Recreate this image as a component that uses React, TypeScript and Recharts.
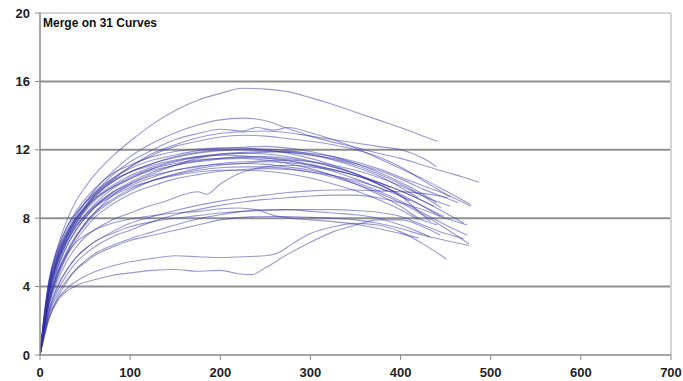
import React from 'react';
import { LineChart, Line, XAxis, YAxis, ReferenceLine } from 'recharts';

const xTicks = [0, 100, 200, 300, 400, 500, 600, 700];
const yTicks = [0, 4, 8, 12, 16, 20];
const gridValues = [4, 8, 12, 16];
const title = 'Merge on 31 Curves';

const c01 = [[0,0],[5,2.6],[10,4.3],[20,6.4],[30,7.9],[40,9.0],[50,9.8],[60,10.5],[80,11.6],[100,12.5],[125,13.5],[150,14.3],[175,14.9],[200,15.3],[225,15.6],[250,15.55],[275,15.4],[300,15.05],[325,14.65],[350,14.2],[375,13.75],[400,13.3],[420,12.9],[441,12.5]];
const c02 = [[0,0],[5,2.4],[10,4.0],[20,5.9],[30,7.1],[40,8.1],[50,8.9],[60,9.6],[80,10.7],[100,11.6],[125,12.4],[150,13.0],[175,13.45],[200,13.75],[225,13.85],[250,13.7],[275,13.25],[300,12.8],[325,12.45],[350,12.15],[375,11.8],[400,11.5],[425,11.1],[450,10.7],[470,10.4],[487,10.1]];
const c03 = [[0,0],[10,3.7],[20,5.6],[30,6.9],[40,7.9],[50,8.7],[60,9.4],[80,10.5],[100,11.3],[125,12.0],[150,12.6],[175,12.95],[200,13.2],[225,13.1],[240,13.3],[260,13.15],[275,13.3],[300,13.0],[325,12.6],[350,12.1],[375,11.5],[400,10.9],[425,10.3],[450,9.6],[478,8.8]];
const c04 = [[0,0],[10,3.6],[20,5.4],[30,6.7],[40,7.7],[50,8.5],[60,9.2],[80,10.2],[100,11.0],[125,11.8],[150,12.3],[175,12.7],[200,12.95],[225,13.05],[250,13.1],[275,13.0],[300,12.8],[325,12.6],[350,12.4],[375,12.2],[400,12.0],[425,11.5],[440,11.0]];
const c05 = [[0,0],[10,3.9],[20,5.8],[30,7.0],[40,7.9],[50,8.6],[60,9.3],[80,10.3],[100,11.0],[125,11.7],[150,12.2],[175,12.5],[200,12.75],[225,12.85],[250,12.8],[275,12.65],[300,12.5],[325,12.3],[350,12.0],[375,11.6],[400,11.0],[425,10.2],[455,9.25]];
const c06 = [[0,0],[10,4.2],[20,6.1],[30,7.3],[40,8.2],[50,8.9],[60,9.5],[80,10.3],[100,10.9],[125,11.4],[150,11.7],[175,11.95],[200,12.1],[225,12.15],[250,12.2],[275,12.1],[300,11.9],[325,11.6],[350,11.2],[375,10.7],[400,10.1],[425,9.4],[440,8.9]];
const c07 = [[0,0],[10,4.0],[20,5.9],[30,7.1],[40,8.0],[50,8.7],[60,9.3],[80,10.1],[100,10.7],[125,11.2],[150,11.55],[175,11.8],[200,11.95],[225,12.0],[250,11.95],[275,11.85],[300,11.7],[325,11.4],[350,11.0],[375,10.5],[400,9.8],[420,9.2]];
const c08 = [[0,0],[10,3.5],[20,5.3],[30,6.6],[40,7.5],[50,8.2],[60,8.8],[80,9.7],[100,10.3],[125,10.9],[150,11.3],[175,11.55],[200,11.7],[225,11.8],[250,11.85],[275,11.9],[300,11.8],[325,11.6],[350,11.3],[375,10.9],[400,10.4],[425,9.9],[450,9.4],[478,8.7]];
const c09 = [[0,0],[10,3.8],[20,5.7],[30,6.9],[40,7.8],[50,8.5],[60,9.1],[80,9.9],[100,10.5],[125,11.0],[150,11.35],[175,11.6],[200,11.75],[225,11.8],[250,11.75],[275,11.6],[300,11.35],[325,11.0],[350,10.6],[375,10.0],[400,9.3],[420,8.4],[433,7.8]];
const c10 = [[0,0],[10,3.3],[20,5.1],[30,6.4],[40,7.3],[50,8.0],[60,8.6],[80,9.5],[100,10.1],[125,10.7],[150,11.1],[175,11.35],[200,11.5],[225,11.6],[250,11.6],[275,11.5],[300,11.3],[325,11.0],[350,10.6],[375,10.1],[389,9.8]];
const c11 = [[0,0],[10,4.1],[20,6.0],[30,7.2],[40,8.0],[50,8.6],[60,9.1],[80,9.8],[100,10.3],[125,10.8],[150,11.1],[175,11.3],[200,11.45],[225,11.5],[250,11.4],[275,11.2],[300,10.9],[325,10.5],[350,10.0],[375,9.4],[400,8.7],[420,8.0],[441,7.6]];
const c12 = [[0,0],[10,3.4],[20,5.2],[30,6.4],[40,7.3],[50,8.0],[60,8.6],[80,9.4],[100,9.9],[125,10.4],[150,10.8],[175,11.0],[200,11.2],[225,11.3],[250,11.35],[275,11.4],[300,11.3],[325,11.1],[350,10.8],[375,10.4],[400,9.9],[425,9.3],[455,8.7]];
const c13 = [[0,0],[10,3.6],[20,5.5],[30,6.7],[40,7.6],[50,8.2],[60,8.7],[80,9.5],[100,10.0],[125,10.5],[150,10.8],[175,11.05],[200,11.15],[225,11.2],[250,11.15],[275,11.0],[300,10.8],[325,10.5],[350,10.1],[375,9.6],[400,9.0],[425,8.3],[450,7.6],[474,7.0]];
const c14 = [[0,0],[10,3.2],[20,4.9],[30,6.1],[40,7.0],[50,7.7],[60,8.3],[80,9.1],[100,9.7],[125,10.2],[150,10.55],[175,10.8],[200,10.95],[225,11.0],[250,11.0],[275,10.9],[300,10.7],[325,10.4],[350,10.0],[375,9.5],[400,8.9],[425,8.2],[450,7.4],[476,6.5]];
const c15 = [[0,0],[10,3.9],[20,5.6],[30,6.7],[40,7.5],[50,8.1],[60,8.6],[80,9.3],[100,9.8],[125,10.2],[150,10.5],[175,10.7],[200,10.8],[225,10.8],[250,10.75],[275,10.6],[300,10.35],[325,10.0],[350,9.6],[375,9.1],[400,8.5],[420,7.9]];
const c16 = [[0,0],[10,4.3],[20,6.2],[30,7.5],[40,8.4],[50,9.1],[60,9.7],[80,10.6],[100,11.1],[125,11.6],[150,11.9],[175,12.05],[200,12.1],[225,12.1],[250,12.0],[275,11.8],[300,11.5],[325,11.1],[350,10.6],[375,10.0],[400,9.3],[410,9.0]];
const c17 = [[0,0],[10,4.4],[20,6.3],[30,7.5],[40,8.3],[50,8.9],[60,9.4],[80,10.2],[100,10.7],[125,11.1],[150,11.4],[175,11.6],[200,11.7],[225,11.65],[250,11.55],[275,11.4],[300,11.1],[325,10.75],[350,10.3],[375,9.8],[385,9.6]];
const c18 = [[0,0],[10,3.0],[20,4.7],[30,5.9],[40,6.9],[50,7.7],[60,8.3],[80,9.3],[100,10.0],[125,10.6],[150,11.1],[175,11.5],[200,11.75],[225,11.85],[250,11.9],[275,11.85],[300,11.7],[325,11.5],[350,11.2],[375,10.8],[400,10.3],[425,9.7],[450,9.2],[464,8.9]];
const c19 = [[0,0],[10,3.1],[20,4.8],[30,6.0],[40,6.9],[50,7.6],[60,8.2],[80,9.0],[100,9.6],[125,10.2],[150,10.6],[175,10.9],[200,11.1],[225,11.2],[250,11.3],[275,11.25],[300,11.1],[325,10.85],[350,10.5],[375,10.0],[400,9.4],[425,8.7],[444,8.1]];
const c20 = [[0,0],[10,3.7],[20,5.6],[30,6.8],[40,7.7],[50,8.4],[60,9.0],[80,9.8],[100,10.4],[125,10.9],[150,11.2],[175,11.4],[200,11.5],[225,11.55],[250,11.5],[275,11.35],[300,11.15],[325,10.85],[350,10.5],[375,10.1],[400,9.6],[425,9.0],[450,8.3],[470,7.7]];
const c21 = [[0,0],[10,3.8],[20,5.7],[30,7.0],[40,7.9],[50,8.6],[60,9.2],[80,10.1],[100,10.7],[125,11.2],[150,11.6],[175,11.85],[200,12.0],[225,12.05],[250,12.05],[275,11.95],[300,11.75],[325,11.45],[350,11.1],[375,10.6],[400,10.0],[425,9.3],[445,8.6]];
const c22 = [[0,0],[10,3.0],[20,4.6],[30,5.8],[40,6.7],[50,7.4],[60,8.0],[80,8.8],[100,9.4],[125,9.9],[150,10.3],[175,10.55],[200,10.75],[225,10.85],[250,10.9],[275,10.85],[300,10.7],[325,10.5],[350,10.2],[375,9.8],[400,9.3],[425,8.7],[448,8.1]];
const c23 = [[0,0],[10,2.9],[20,4.4],[30,5.5],[40,6.3],[50,6.9],[60,7.3],[80,7.9],[100,8.3],[120,8.7],[140,9.0],[160,9.4],[175,9.55],[185,9.4],[200,10.0],[225,10.7],[250,11.0],[275,11.1],[300,11.0],[325,10.8],[350,10.5],[375,10.1],[400,9.6],[425,9.0],[437,8.7]];
const c24 = [[0,0],[10,2.7],[20,4.1],[30,5.0],[40,5.7],[50,6.2],[60,6.6],[80,7.2],[100,7.7],[125,8.1],[150,8.45],[175,8.75],[200,9.0],[225,9.2],[250,9.35],[275,9.5],[300,9.6],[325,9.65],[350,9.65],[375,9.6],[400,9.55],[425,9.45],[452,9.2]];
const c25 = [[0,0],[10,2.5],[20,3.8],[30,4.7],[40,5.4],[50,5.9],[60,6.3],[80,6.9],[100,7.3],[125,7.8],[150,8.2],[175,8.5],[200,8.75],[225,8.95],[250,9.1],[275,9.2],[300,9.3],[325,9.35],[350,9.35],[375,9.2],[400,8.9],[425,8.5],[450,8.0],[474,7.6]];
const c26 = [[0,0],[10,3.2],[20,4.9],[30,5.9],[40,6.6],[50,7.0],[60,7.3],[80,7.7],[100,7.95],[125,8.15],[150,8.3],[175,8.4],[200,8.55],[220,8.6],[240,8.5],[260,8.15],[280,8.0],[300,7.9],[325,7.8],[350,7.65],[375,7.4],[400,7.1],[420,6.85]];
const c27 = [[0,0],[10,2.6],[20,4.0],[30,5.0],[40,5.7],[50,6.2],[60,6.6],[80,7.1],[100,7.5],[125,7.8],[150,8.0],[175,8.15],[200,8.3],[225,8.4],[250,8.45],[275,8.5],[300,8.5],[325,8.5],[350,8.45],[375,8.35],[400,8.1],[425,7.6],[450,7.1],[470,6.8]];
const c28 = [[0,0],[10,2.4],[20,3.6],[30,4.4],[40,5.0],[50,5.4],[60,5.8],[80,6.3],[100,6.7],[125,7.0],[150,7.3],[175,7.6],[200,7.9],[225,8.05],[250,8.1],[275,8.1],[300,8.05],[325,8.0],[350,7.9],[375,7.7],[400,7.4],[425,7.0],[450,6.7],[476,6.4]];
const c29 = [[0,0],[10,2.2],[20,3.4],[30,4.3],[40,5.0],[50,5.5],[60,5.9],[80,6.4],[100,6.8],[125,7.2],[150,7.6],[175,7.95],[200,8.2],[225,8.4],[250,8.5],[275,8.5],[300,8.4],[325,8.3],[350,8.2],[375,8.0],[400,7.6],[420,7.2],[433,6.9]];
const c30 = [[0,0],[10,2.2],[20,3.3],[30,3.9],[40,4.3],[50,4.6],[60,4.85],[80,5.2],[100,5.45],[125,5.65],[150,5.8],[175,5.75],[200,5.7],[225,5.75],[250,5.8],[265,6.0],[280,6.5],[300,7.1],[325,7.5],[350,7.7],[375,7.6],[400,7.2],[425,6.5],[451,5.6]];
const c31 = [[0,0],[10,2.1],[20,3.2],[30,3.75],[40,4.05],[50,4.25],[60,4.4],[80,4.65],[100,4.8],[125,4.95],[150,5.0],[175,4.9],[200,4.95],[220,4.75],[235,4.7],[250,5.1],[275,5.9],[300,6.6],[325,7.2],[350,7.6],[375,7.9],[400,7.9],[425,7.5],[444,7.0]];

const curves = [c01,c02,c03,c04,c05,c06,c07,c08,c09,c10,c11,c12,c13,c14,c15,c16,c17,c18,c19,c20,c21,c22,c23,c24,c25,c26,c27,c28,c29,c30,c31];

const tickStyle = { fill: '#222', fontSize: 13, fontWeight: 700, fontFamily: 'Arial, "Liberation Sans", sans-serif' };

export default function App() {
  return (
    <div style={{ position: 'absolute', left: 0, top: 0, width: 683, height: 381, background: '#fff' }}>
      <LineChart width={683} height={381} margin={{ top: 13, right: 12, bottom: 0, left: 0 }}>
        <XAxis
          type="number"
          dataKey="x"
          domain={[0, 700]}
          ticks={xTicks}
          interval={0}
          allowDataOverflow
          height={26}
          tickSize={5}
          tickMargin={8}
          axisLine={{ stroke: '#8a8a8a', strokeWidth: 1.5 }}
          tickLine={{ stroke: '#8a8a8a' }}
          tick={tickStyle}
        />
        <YAxis
          type="number"
          domain={[0, 20]}
          ticks={yTicks}
          interval={0}
          allowDataOverflow
          width={40}
          tickSize={5}
          tickMargin={5}
          axisLine={{ stroke: '#8a8a8a', strokeWidth: 1.5 }}
          tickLine={{ stroke: '#8a8a8a' }}
          tick={tickStyle}
        />
        {gridValues.map((v) => (
          <ReferenceLine key={v} y={v} stroke="#8f8f8f" strokeWidth={2} />
        ))}
        <ReferenceLine y={20} stroke="#d4d4d4" strokeWidth={2} />
        <ReferenceLine x={700} stroke="#d4d4d4" strokeWidth={2} />
        {curves.map((c, i) => (
          <Line
            key={i}
            data={c.map(([x, y]) => ({ x, y }))}
            dataKey="y"
            type="monotone"
            stroke="#3434a8"
            strokeOpacity={0.5}
            strokeWidth={1.1}
            dot={false}
            activeDot={false}
            isAnimationActive={false}
          />
        ))}
      </LineChart>
      <div
        style={{
          position: 'absolute',
          left: 43,
          top: 16,
          fontFamily: 'Arial, "Liberation Sans", sans-serif',
          fontSize: 12,
          fontWeight: 700,
          color: '#111',
          whiteSpace: 'nowrap',
        }}
      >
        {title}
      </div>
    </div>
  );
}
